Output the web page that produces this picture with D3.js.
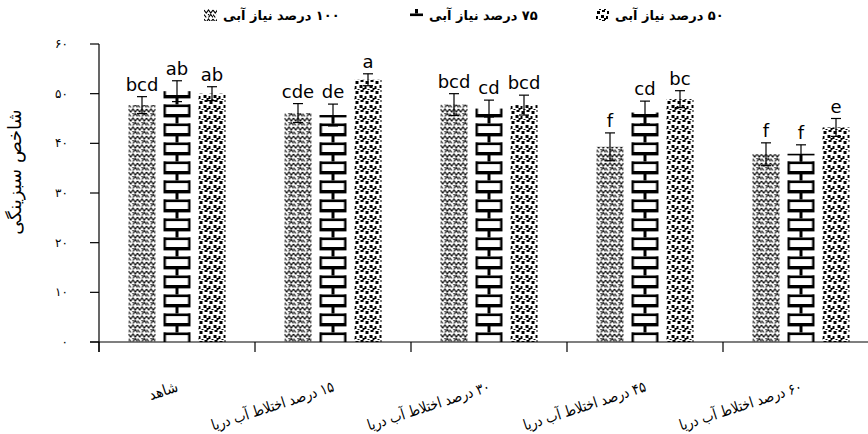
<!DOCTYPE html>
<html><head><meta charset="utf-8">
<script src="https://cdn.jsdelivr.net/npm/d3@7"></script>
<style>
html,body{margin:0;padding:0;background:#fff;}
svg{display:block;font-family:"DejaVu Sans",sans-serif;}
</style></head>
<body>
<svg id="c" width="868" height="434"></svg>
<script>
const groups = ["شاهد","۱۵ درصد اختلاط آب دریا","۳۰ درصد اختلاط آب دریا","۴۵ درصد اختلاط آب دریا","۶۰ درصد اختلاط آب دریا"];
const seriesNames = ["۱۰۰ درصد نیاز آبی","۷۵ درصد نیاز آبی","۵۰ درصد نیاز آبی"];
const s100 = [47.7, 46.1, 47.8, 39.3, 37.8];
const s75  = [50.5, 45.7, 47.0, 46.2, 37.9];
const s50  = [50.0, 52.8, 47.7, 48.9, 43.2];
const e100 = [1.7, 1.9, 2.2, 2.8, 2.3];
const e75  = [2.1, 2.2, 1.7, 2.3, 1.8];
const e50  = [1.4, 1.2, 2.0, 1.7, 1.8];
const l100 = ["bcd","cde","bcd","f","f"];
const l75  = ["ab","de","cd","cd","f"];
const l50  = ["ab","a","bcd","bc","e"];
const yTicks = [0,10,20,30,40,50,60];
const yTickLabels = ["۰","۱۰","۲۰","۳۰","۴۰","۵۰","۶۰"];
const yTitle = "شاخص سبزینگی";

const vals=[s100,s75,s50], errs=[e100,e75,e50], lets=[l100,l75,l50];
const svg = d3.select("#c");
const defs = svg.append("defs");
const y = d3.scaleLinear().domain([0,60]).range([342,44]);
const x0 = d3.scaleBand().domain(groups).range([99,879]);
const x1 = d3.scaleBand().domain([0,1,2]).range([25.5,130.5]).paddingInner(0.229).paddingOuter(0.1145);
const bw = x1.bandwidth();

function makePattern(id, kind, ox, w, legend){
  if(kind===0){
    const p = defs.append("pattern").attr("id",id).attr("patternUnits","userSpaceOnUse")
      .attr("x",ox).attr("y",0).attr("width",9).attr("height",9);
    p.append("path").attr("d","M0,1 L2.25,4 L4.5,1 L6.75,4 L9,1").attr("fill","none").attr("stroke","#000").attr("stroke-width",1.2);
    p.append("path").attr("d","M0,5.5 L2.25,8.5 M4.5,8.5 L6.75,5.5 L9,8.5").attr("fill","none").attr("stroke","#000").attr("stroke-width",1.2);
    p.append("rect").attr("x",3.9).attr("y",5).attr("width",1.3).attr("height",1.3).attr("fill","#000");
  } else if(kind===1){
    const h = 19;
    const p = defs.append("pattern").attr("id",id).attr("patternUnits","userSpaceOnUse")
      .attr("x",ox).attr("y",legend?4:342).attr("width",w).attr("height",h);
    p.append("rect").attr("x",0).attr("y",0).attr("width",w).attr("height",3.4).attr("fill","#000");
    p.append("rect").attr("x",w/2-1.5).attr("y",0).attr("width",3).attr("height",9.5).attr("fill","#000");
    p.append("rect").attr("x",0).attr("y",9.5).attr("width",w).attr("height",2.6).attr("fill","#000");
    if(!legend){
      p.append("rect").attr("x",0).attr("y",9.5).attr("width",2.4).attr("height",9.5).attr("fill","#000");
      p.append("rect").attr("x",w-2.4).attr("y",9.5).attr("width",2.4).attr("height",9.5).attr("fill","#000");
    }
  } else {
    const p = defs.append("pattern").attr("id",id).attr("patternUnits","userSpaceOnUse")
      .attr("x",ox).attr("y",0).attr("width",10).attr("height",10);
    [[1,1,3,3],[6,0,3,2],[5,5,3,3],[0,6,2,3],[8,8,2,2],[3,9,2,1]].forEach(r=>{
      p.append("rect").attr("x",r[0]).attr("y",r[1]).attr("width",r[2]).attr("height",r[3]).attr("fill","#000");
    });
  }
}

// Bars
groups.forEach((g,gi)=>{
  [0,1,2].forEach(si=>{
    const bx = x0(g)+x1(si);
    const id = "p"+gi+"_"+si;
    makePattern(id, si, bx, bw, false);
    const v = vals[si][gi], e = errs[si][gi];
    svg.append("rect").attr("x",bx).attr("y",y(v)).attr("width",bw).attr("height",y(0)-y(v))
      .attr("fill","url(#"+id+")");
    const cx = bx+bw/2;
    const eg = svg.append("g").attr("stroke","#000").attr("stroke-width",1.2);
    eg.append("line").attr("x1",cx).attr("x2",cx).attr("y1",y(v+e)).attr("y2",y(v-e));
    eg.append("line").attr("x1",cx-5).attr("x2",cx+5).attr("y1",y(v+e)).attr("y2",y(v+e));
    eg.append("line").attr("x1",cx-5).attr("x2",cx+5).attr("y1",y(v-e)).attr("y2",y(v-e));
    svg.append("text").attr("x",cx).attr("y",y(v+e)-6).attr("text-anchor","middle")
      .attr("font-size",18).attr("fill","#000").text(lets[si][gi]);
  });
});

// Axes
const ax = svg.append("g").attr("stroke","#000").attr("stroke-width",1.2);
ax.append("line").attr("x1",99).attr("x2",99).attr("y1",y(60)).attr("y2",352);
ax.append("line").attr("x1",90).attr("x2",868).attr("y1",y(0)).attr("y2",y(0));
yTicks.forEach(t=>{
  ax.append("line").attr("x1",90).attr("x2",99).attr("y1",y(t)).attr("y2",y(t));
});
groups.forEach(g=>{
  ax.append("line").attr("x1",x0(g)).attr("x2",x0(g)).attr("y1",y(0)).attr("y2",352);
});
yTicks.forEach((t,i)=>{
  svg.append("text").attr("x",68).attr("y",y(t)+4).attr("text-anchor","end")
    .attr("font-size",12).attr("fill","#000").text(yTickLabels[i]);
});
svg.append("text").attr("transform","translate(21,172) rotate(-90)").attr("text-anchor","middle")
  .attr("direction","rtl").attr("font-size",18).attr("fill","#000").text(yTitle);

// X labels: right end at category centre, rotated
const ang = -18;
groups.forEach((g,gi)=>{
  const cx = x0(g)+x0.bandwidth()/2;
  const t = svg.append("text").attr("direction","rtl").attr("text-anchor","middle")
    .attr("font-family","'DejaVu Sans Condensed','DejaVu Sans',sans-serif")
    .attr("font-size",15).attr("fill","#000").text(g);
  if(gi>0){ t.attr("textLength",128).attr("lengthAdjust","spacingAndGlyphs"); }
  const w = gi>0 ? 128 : t.node().getComputedTextLength();
  const a = ang*Math.PI/180;
  const rx = cx+2, ry = 391;
  const mx = rx - (w/2)*Math.cos(a), my = ry - (w/2)*Math.sin(a);
  t.attr("transform","translate("+mx+","+my+") rotate("+ang+")");
});

// Legend
const legX = [204,410,596];
seriesNames.forEach((n,i)=>{
  const id="leg"+i;
  makePattern(id,i,legX[i],13,true);
  svg.append("rect").attr("x",legX[i]).attr("y",9).attr("width",13).attr("height",12).attr("fill","url(#"+id+")");
  const t = svg.append("text").attr("direction","rtl").attr("text-anchor","middle")
    .attr("font-size",13).attr("font-weight","bold").attr("fill","#000").text(n);
  const w = t.node().getComputedTextLength();
  t.attr("x",legX[i]+19+w/2).attr("y",20);
});
</script>
</body></html>
